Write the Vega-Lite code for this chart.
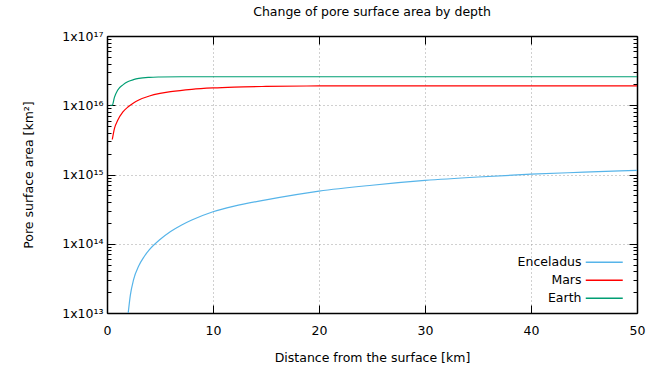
{
  "$schema": "https://vega.github.io/schema/vega-lite/v6.json",
  "width": 530,
  "height": 277,
  "autosize": {"type": "none"},
  "padding": {"left": 107, "top": 36, "right": 35, "bottom": 59},
  "background": "white",
  "config": {
    "font": "DejaVu Sans",
    "view": {"stroke": null},
    "axis": {
      "labelFont": "DejaVu Sans",
      "titleFont": "DejaVu Sans",
      "labelFontSize": 12.5,
      "titleFontSize": 12.5,
      "titleFontWeight": "normal",
      "labelColor": "black",
      "titleColor": "black",
      "domainColor": "black",
      "domainWidth": 1.5,
      "tickColor": "black",
      "tickWidth": 1,
      "labelFlush": false,
      "labelOverlap": false,
      "gridColor": "#a0a0a0",
      "gridDash": [1, 3],
      "gridWidth": 1
    }
  },
  "title": {
    "text": "Change of pore surface area by depth",
    "font": "DejaVu Sans",
    "fontSize": 12.5,
    "fontWeight": "normal",
    "color": "black",
    "anchor": "middle",
    "offset": 12
  },
  "data": {
    "values": [
      {"series": "Enceladus", "x": 2.0, "y": 1.0e13},
      {"series": "Enceladus", "x": 2.2, "y": 1.8e13},
      {"series": "Enceladus", "x": 2.5, "y": 3.0e13},
      {"series": "Enceladus", "x": 3.0, "y": 4.8e13},
      {"series": "Enceladus", "x": 3.5, "y": 6.5e13},
      {"series": "Enceladus", "x": 4.0, "y": 8.2e13},
      {"series": "Enceladus", "x": 5.0, "y": 1.15e14},
      {"series": "Enceladus", "x": 6.0, "y": 1.5e14},
      {"series": "Enceladus", "x": 7.0, "y": 1.85e14},
      {"series": "Enceladus", "x": 8.0, "y": 2.2e14},
      {"series": "Enceladus", "x": 10.0, "y": 2.9e14},
      {"series": "Enceladus", "x": 12.0, "y": 3.5e14},
      {"series": "Enceladus", "x": 15.0, "y": 4.3e14},
      {"series": "Enceladus", "x": 20.0, "y": 5.75e14},
      {"series": "Enceladus", "x": 25.0, "y": 7.0e14},
      {"series": "Enceladus", "x": 30.0, "y": 8.2e14},
      {"series": "Enceladus", "x": 35.0, "y": 9.2e14},
      {"series": "Enceladus", "x": 40.0, "y": 1.01e15},
      {"series": "Enceladus", "x": 45.0, "y": 1.08e15},
      {"series": "Enceladus", "x": 50.0, "y": 1.15e15},
      {"series": "Mars", "x": 0.5, "y": 3.2e15},
      {"series": "Mars", "x": 0.7, "y": 4.6e15},
      {"series": "Mars", "x": 1.0, "y": 6.0e15},
      {"series": "Mars", "x": 1.5, "y": 8.0e15},
      {"series": "Mars", "x": 2.0, "y": 9.5e15},
      {"series": "Mars", "x": 2.5, "y": 1.08e16},
      {"series": "Mars", "x": 3.0, "y": 1.19e16},
      {"series": "Mars", "x": 4.0, "y": 1.36e16},
      {"series": "Mars", "x": 5.0, "y": 1.48e16},
      {"series": "Mars", "x": 6.0, "y": 1.57e16},
      {"series": "Mars", "x": 8.0, "y": 1.7e16},
      {"series": "Mars", "x": 10.0, "y": 1.78e16},
      {"series": "Mars", "x": 12.0, "y": 1.83e16},
      {"series": "Mars", "x": 15.0, "y": 1.87e16},
      {"series": "Mars", "x": 20.0, "y": 1.9e16},
      {"series": "Mars", "x": 30.0, "y": 1.91e16},
      {"series": "Mars", "x": 50.0, "y": 1.91e16},
      {"series": "Earth", "x": 0.3, "y": 1.0e16},
      {"series": "Earth", "x": 0.5, "y": 1.0e16},
      {"series": "Earth", "x": 0.7, "y": 1.3e16},
      {"series": "Earth", "x": 1.0, "y": 1.65e16},
      {"series": "Earth", "x": 1.5, "y": 1.97e16},
      {"series": "Earth", "x": 2.0, "y": 2.2e16},
      {"series": "Earth", "x": 2.5, "y": 2.34e16},
      {"series": "Earth", "x": 3.0, "y": 2.44e16},
      {"series": "Earth", "x": 4.0, "y": 2.53e16},
      {"series": "Earth", "x": 5.0, "y": 2.56e16},
      {"series": "Earth", "x": 7.0, "y": 2.58e16},
      {"series": "Earth", "x": 10.0, "y": 2.58e16},
      {"series": "Earth", "x": 50.0, "y": 2.58e16}
    ]
  },
  "layer": [
    {
      "mark": {"type": "line", "strokeWidth": 1.2, "clip": true, "interpolate": "monotone"},
      "encoding": {
        "x": {
          "field": "x", "type": "quantitative",
          "scale": {"domain": [0, 50], "nice": false, "zero": false},
          "axis": {
            "title": "Distance from the surface [km]",
            "values": [0, 10, 20, 30, 40, 50],
            "tickSize": -8,
            "labelPadding": 19,
            "titlePadding": 15,
            "grid": true
          }
        },
        "y": {
          "field": "y", "type": "quantitative",
          "scale": {"type": "log", "domain": [1e13, 1e17], "nice": false},
          "axis": {
            "title": "Pore surface area [km²]",
            "values": [1e13, 2e13, 3e13, 4e13, 5e13, 6e13, 7e13, 8e13, 9e13, 1e14, 2e14, 3e14, 4e14, 5e14, 6e14, 7e14, 8e14, 9e14, 1e15, 2e15, 3e15, 4e15, 5e15, 6e15, 7e15, 8e15, 9e15, 1e16, 2e16, 3e16, 4e16, 5e16, 6e16, 7e16, 8e16, 9e16, 1e17],
            "labelExpr": "datum.value == 1e17 ? '1x10¹⁷' : datum.value == 1e16 ? '1x10¹⁶' : datum.value == 1e15 ? '1x10¹⁵' : datum.value == 1e14 ? '1x10¹⁴' : datum.value == 1e13 ? '1x10¹³' : ''",
            "tickSize": {"condition": {"test": "indexof([1e13,1e14,1e15,1e16,1e17], datum.value) >= 0", "value": -8}, "value": -4},
            "labelPadding": 12,
            "gridOpacity": {"condition": {"test": "indexof([1e13,1e14,1e15,1e16,1e17], datum.value) >= 0", "value": 1}, "value": 0},
            "grid": true,
            "titlePadding": 26
          }
        },
        "color": {
          "field": "series", "type": "nominal",
          "scale": {"domain": ["Enceladus", "Mars", "Earth"], "range": ["#56B4E9", "#FF0000", "#009E73"]},
          "legend": {
            "title": null,
            "orient": "none",
            "legendX": 491,
            "legendY": 220,
            "padding": 0,
            "symbolType": "M-9.25,0H9.25",
            "symbolSize": 16,
            "symbolStrokeWidth": 1.5,
            "rowPadding": 5,
            "labelAlign": "right",
            "labelOffset": -29,
            "labelFont": "DejaVu Sans",
            "labelFontSize": 12.5,
            "labelColor": "black"
          }
        }
      }
    },
    {
      "mark": {"type": "line", "opacity": 0, "clip": true},
      "encoding": {
        "detail": {"field": "series"},
        "x": {
          "field": "x", "type": "quantitative",
          "scale": {"domain": [0, 50], "nice": false, "zero": false},
          "axis": {"orient": "top", "labels": false, "title": null, "values": [0, 10, 20, 30, 40, 50], "tickSize": -8, "grid": false}
        },
        "y": {
          "field": "y", "type": "quantitative",
          "scale": {"type": "log", "domain": [1e13, 1e17], "nice": false},
          "axis": {
            "orient": "right", "labels": false, "title": null, "grid": false,
            "values": [1e13, 2e13, 3e13, 4e13, 5e13, 6e13, 7e13, 8e13, 9e13, 1e14, 2e14, 3e14, 4e14, 5e14, 6e14, 7e14, 8e14, 9e14, 1e15, 2e15, 3e15, 4e15, 5e15, 6e15, 7e15, 8e15, 9e15, 1e16, 2e16, 3e16, 4e16, 5e16, 6e16, 7e16, 8e16, 9e16, 1e17],
            "tickSize": {"condition": {"test": "indexof([1e13,1e14,1e15,1e16,1e17], datum.value) >= 0", "value": -8}, "value": -4}
          }
        }
      }
    }
  ],
  "resolve": {"axis": {"x": "independent", "y": "independent"}}
}
